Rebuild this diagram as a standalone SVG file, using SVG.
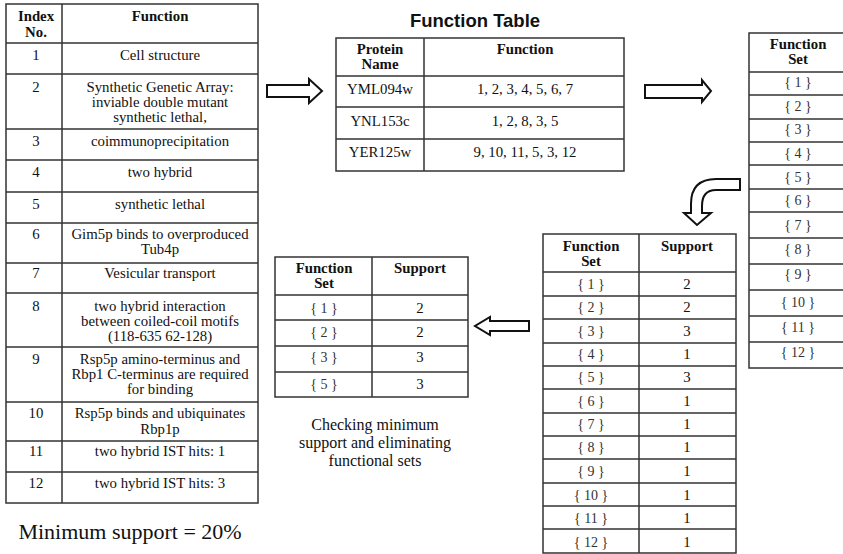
<svg xmlns="http://www.w3.org/2000/svg" width="843" height="554" viewBox="0 0 843 554">
<style>
.b{fill:none;stroke:#333;stroke-width:1.5}
.t{font-family:'Liberation Serif','Times New Roman',serif;font-size:14.8px;fill:#111;text-anchor:middle}
.h{font-family:'Liberation Serif','Times New Roman',serif;font-size:14.8px;font-weight:bold;fill:#111;text-anchor:middle}
.s{font-family:'Liberation Serif','Times New Roman',serif;font-size:14px;fill:#333;text-anchor:middle}
.c{font-family:'Liberation Serif','Times New Roman',serif;font-size:16px;fill:#111;text-anchor:middle}
.ar{fill:#fff;stroke:#111;stroke-width:2;stroke-linejoin:miter}
</style>
<rect width="843" height="554" fill="#fff"/>

<g id="index-table">
<rect class="b" x="6" y="4" width="252" height="499"/>
<path class="b" d="M62,4V503M6,43H258M6,74H258M6,129H258M6,160H258M6,192H258M6,223H258M6,263H258M6,293H258M6,347H258M6,402H258M6,441H258M6,472H258"/>
<text class="h" x="36" y="21">Index</text><text class="h" x="36" y="37">No.</text>
<text class="h" x="160" y="21">Function</text>
<text class="t" x="36" y="60">1</text><text class="t" x="160" y="60">Cell structure</text>
<text class="t" x="36" y="92">2</text><text class="t" x="160" y="92">Synthetic Genetic Array:</text><text class="t" x="160" y="107">inviable double mutant</text><text class="t" x="160" y="122">synthetic lethal,</text>
<text class="t" x="36" y="146">3</text><text class="t" x="160" y="146">coimmunoprecipitation</text>
<text class="t" x="36" y="177">4</text><text class="t" x="160" y="177">two hybrid</text>
<text class="t" x="36" y="209">5</text><text class="t" x="160" y="209">synthetic lethal</text>
<text class="t" x="36" y="239">6</text><text class="t" x="160" y="239">Gim5p binds to overproduced</text><text class="t" x="160" y="254">Tub4p</text>
<text class="t" x="36" y="278">7</text><text class="t" x="160" y="278">Vesicular transport</text>
<text class="t" x="36" y="311">8</text><text class="t" x="160" y="311">two hybrid interaction</text><text class="t" x="160" y="326">between coiled-coil motifs</text><text class="t" x="160" y="341">(118-635 62-128)</text>
<text class="t" x="36" y="364">9</text><text class="t" x="160" y="364">Rsp5p amino-terminus and</text><text class="t" x="160" y="379">Rbp1 C-terminus are required</text><text class="t" x="160" y="394">for binding</text>
<text class="t" x="36" y="418">10</text><text class="t" x="160" y="418">Rsp5p binds and ubiquinates</text><text class="t" x="160" y="434">Rbp1p</text>
<text class="t" x="36" y="456">11</text><text class="t" x="160" y="456">two hybrid IST hits: 1</text>
<text class="t" x="36" y="488">12</text><text class="t" x="160" y="488">two hybrid IST hits: 3</text>
</g>
<text id="min-support" x="130" y="539" font-family="'Liberation Serif','Times New Roman',serif" font-size="22" fill="#111" text-anchor="middle">Minimum support = 20%</text>

<g id="function-table">
<text x="475" y="27" font-family="'Liberation Sans',Arial,sans-serif" font-size="18.5" font-weight="bold" fill="#111" text-anchor="middle">Function Table</text>
<rect class="b" x="336" y="38" width="288" height="133"/>
<path class="b" d="M424,38V171M336,76H624M336,107H624M336,139H624"/>
<text class="h" x="380" y="54">Protein</text><text class="h" x="380" y="69">Name</text>
<text class="h" x="525" y="54">Function</text>
<text class="t" x="380" y="94">YML094w</text><text class="t" x="525" y="94">1, 2, 3, 4, 5, 6, 7</text>
<text class="t" x="380" y="126">YNL153c</text><text class="t" x="525" y="126">1, 2, 8, 3, 5</text>
<text class="t" x="380" y="157">YER125w</text><text class="t" x="525" y="157">9, 10, 11, 5, 3, 12</text>
</g>

<g id="function-set-table">
<rect class="b" x="749" y="33" width="100" height="335"/>
<path class="b" d="M749,72H849M749,95H849M749,119H849M749,142H849M749,165H849M749,189H849M749,212H849M749,238H849M749,264H849M749,290H849M749,316H849M749,342H849"/>
<text class="h" x="798" y="49">Function</text><text class="h" x="798" y="64">Set</text>
<text class="s" x="798" y="87">{ 1 }</text>
<text class="s" x="798" y="111">{ 2 }</text>
<text class="s" x="798" y="134">{ 3 }</text>
<text class="s" x="798" y="158">{ 4 }</text>
<text class="s" x="798" y="182">{ 5 }</text>
<text class="s" x="798" y="205">{ 6 }</text>
<text class="s" x="798" y="230">{ 7 }</text>
<text class="s" x="798" y="254">{ 8 }</text>
<text class="s" x="798" y="279">{ 9 }</text>
<text class="s" x="798" y="307">{ 10 }</text>
<text class="s" x="798" y="332">{ 11 }</text>
<text class="s" x="798" y="357">{ 12 }</text>
</g>

<g id="support-table">
<rect class="b" x="543" y="234" width="193" height="319"/>
<path class="b" d="M639,234V553M543,272H736M543,296H736M543,319H736M543,343H736M543,366H736M543,389H736M543,413H736M543,436H736M543,459H736M543,483H736M543,506H736M543,529H736"/>
<text class="h" x="591" y="251">Function</text><text class="h" x="591" y="266">Set</text>
<text class="h" x="687" y="251">Support</text>
<text class="s" x="591" y="289">{ 1 }</text><text class="t" x="687" y="289">2</text>
<text class="s" x="591" y="312">{ 2 }</text><text class="t" x="687" y="312">2</text>
<text class="s" x="591" y="336">{ 3 }</text><text class="t" x="687" y="336">3</text>
<text class="s" x="591" y="359">{ 4 }</text><text class="t" x="687" y="359">1</text>
<text class="s" x="591" y="382">{ 5 }</text><text class="t" x="687" y="382">3</text>
<text class="s" x="591" y="406">{ 6 }</text><text class="t" x="687" y="406">1</text>
<text class="s" x="591" y="429">{ 7 }</text><text class="t" x="687" y="429">1</text>
<text class="s" x="591" y="452">{ 8 }</text><text class="t" x="687" y="452">1</text>
<text class="s" x="591" y="476">{ 9 }</text><text class="t" x="687" y="476">1</text>
<text class="s" x="591" y="500">{ 10 }</text><text class="t" x="687" y="500">1</text>
<text class="s" x="591" y="523">{ 11 }</text><text class="t" x="687" y="523">1</text>
<text class="s" x="591" y="547">{ 12 }</text><text class="t" x="687" y="547">1</text>
</g>

<g id="filtered-table">
<rect class="b" x="275" y="257" width="193" height="140"/>
<path class="b" d="M372,257V397M275,295H468M275,320H468M275,346H468M275,372H468"/>
<text class="h" x="324" y="273">Function</text><text class="h" x="324" y="288">Set</text>
<text class="h" x="420" y="273">Support</text>
<text class="s" x="324" y="313">{ 1 }</text><text class="t" x="420" y="313">2</text>
<text class="s" x="324" y="337">{ 2 }</text><text class="t" x="420" y="337">2</text>
<text class="s" x="324" y="362">{ 3 }</text><text class="t" x="420" y="362">3</text>
<text class="s" x="324" y="389">{ 5 }</text><text class="t" x="420" y="389">3</text>
</g>
<g id="caption">
<text class="c" x="375" y="429.5">Checking minimum</text>
<text class="c" x="375" y="447.5">support and eliminating</text>
<text class="c" x="375" y="465.5">functional sets</text>
</g>

<g id="connectors">
<path class="ar" d="M267,85H309V79L322,91L309,103V97H267Z"/>
<path class="ar" d="M645,85H702V80L711,91L702,102V98H645Z"/>
<path class="ar" d="M740,179V190H716Q702,190 702,206V213H711L697,225L684,213H691V204Q691,179 716,179Z"/>
<path class="ar" d="M529,321H490V317L475,326L490,335V331H529Z"/>
</g>
</svg>
